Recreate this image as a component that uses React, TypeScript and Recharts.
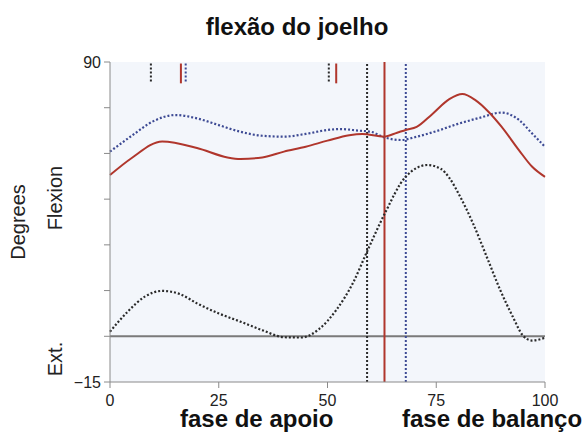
import React from 'react';
import { LineChart, Line, XAxis, YAxis, CartesianGrid, ReferenceLine } from 'recharts';

// gait cycle (%) and knee angle (degrees) for each curve
const redPct = [0, 5, 12, 20, 27, 30, 35, 40, 45, 50, 55, 58, 63, 66, 68, 70.5, 74, 78, 81, 84, 87, 90, 94, 97, 100];
const redDeg = [52.9, 58.5, 63.9, 61.8, 58.7, 58.2, 58.7, 60.6, 62.2, 64.2, 66, 66.4, 65.5, 66.8, 67.7, 68.7, 72.8, 77.8, 79.5, 77.5, 73.7, 68.8, 61.1, 55.7, 52.3];

const bluePct = [0, 5, 10, 15, 20, 25, 30, 35, 40, 45, 50, 53, 57, 60, 63, 67, 70, 75, 80, 85, 90, 94, 97, 100];
const blueDeg = [60.6, 65.8, 70.6, 72.6, 71.5, 69.3, 67.1, 65.8, 65.5, 66.4, 67.7, 68, 67.5, 67.1, 65.3, 64.4, 65.3, 67.3, 69.7, 71.7, 73.4, 71, 66.6, 62.2];

const blackPct = [0, 4, 8, 12, 16, 20, 25, 30, 35, 40, 44, 48, 52, 56, 59, 63, 68, 73, 76, 78, 80.5, 83.4, 86.6, 89.7, 92.6, 94.9, 97, 100];
const blackDeg = [1.5, 8, 13, 14.9, 13.9, 10.8, 7.5, 4.8, 2, -0.3, -0.4, 2.3, 8.6, 17.9, 27.5, 39.8, 52.4, 56.2, 55, 52, 45.8, 37.2, 26.1, 15.2, 6.4, 0.3, -1.4, -0.5];

// event markers (% of cycle)
const shortBlack = [9.4, 50.3];
const shortRed = [16.3, 52];
const shortBlue = [17.4];
const toeOffBlack = 59.1;
const toeOffRed = 63.1;
const toeOffBlue = 68;

const xTicks = [0, 25, 50, 75, 100];
const yTicks = [-15, 0, 15, 30, 45, 60, 75, 90];

const RED = '#b0362c';
const BLUE = '#3d4a94';
const BLACK = '#2a2a2a';
const AXIS = '#8a8a8a';

const toData = (xs: number[], ys: number[]) => xs.map((x, i) => ({ x, y: ys[i] }));
const redData = toData(redPct, redDeg);
const blueData = toData(bluePct, blueDeg);
const blackData = toData(blackPct, blackDeg);

const App: React.FC = () => {
  return (
    <div style={{ position: 'absolute', left: 0, top: 0, width: 583, height: 437, background: '#fff', fontFamily: '"Liberation Sans", Arial, sans-serif' }}>
      <LineChart width={583} height={437} margin={{ top: 62, right: 38, bottom: 25, left: 70 }}>
        <CartesianGrid horizontal={false} vertical={false} fill="#f3f6fb" stroke="none" />
        <XAxis
          type="number"
          dataKey="x"
          domain={[0, 100]}
          ticks={xTicks}
          height={30}
          tickMargin={7}
          tick={{ fontSize: 16, fill: '#222' }}
          axisLine={{ stroke: AXIS }}
          tickLine={{ stroke: AXIS }}
          allowDuplicatedCategory={false}
        />
        <YAxis
          type="number"
          domain={[-15, 90]}
          ticks={yTicks}
          width={40}
          tickMargin={3}
          tick={{ fontSize: 16, fill: '#222' }}
          tickFormatter={(v: number) => (v === 90 ? '90' : v === -15 ? '\u221215' : '')}
          axisLine={{ stroke: AXIS }}
          tickLine={{ stroke: AXIS }}
        />
        <ReferenceLine y={0} stroke="#7a7a7a" strokeWidth={2} />
        {shortBlack.map((p) => (
          <ReferenceLine key={'sb' + p} segment={[{ x: p, y: 89.5 }, { x: p, y: 83 }]} stroke={BLACK} strokeWidth={2} strokeDasharray="2 2" />
        ))}
        {shortRed.map((p) => (
          <ReferenceLine key={'sr' + p} segment={[{ x: p, y: 89.5 }, { x: p, y: 83 }]} stroke={RED} strokeWidth={2} />
        ))}
        {shortBlue.map((p) => (
          <ReferenceLine key={'sbl' + p} segment={[{ x: p, y: 89.5 }, { x: p, y: 83 }]} stroke={BLUE} strokeWidth={2} strokeDasharray="2 2" />
        ))}
        <ReferenceLine x={toeOffBlack} stroke={BLACK} strokeWidth={2} strokeDasharray="2 2" />
        <ReferenceLine x={toeOffRed} stroke={RED} strokeWidth={2} />
        <ReferenceLine x={toeOffBlue} stroke={BLUE} strokeWidth={2} strokeDasharray="2 2" />
        <Line data={blackData} dataKey="y" type="monotone" stroke={BLACK} strokeWidth={2.2} strokeDasharray="2 2" dot={false} isAnimationActive={false} />
        <Line data={blueData} dataKey="y" type="monotone" stroke={BLUE} strokeWidth={2.2} strokeDasharray="2 2" dot={false} isAnimationActive={false} />
        <Line data={redData} dataKey="y" type="monotone" stroke={RED} strokeWidth={2} dot={false} isAnimationActive={false} />
      </LineChart>
      <svg width={583} height={437} style={{ position: 'absolute', left: 0, top: 0, pointerEvents: 'none' }}>
        <text x={297} y={35} textAnchor="middle" fontSize={24} fontWeight="bold" fill="#111">flexão do joelho</text>
        <text x={180} y={427} fontSize={24} fontWeight="bold" fill="#111">fase de apoio</text>
        <text x={402} y={427} fontSize={24} fontWeight="bold" fill="#111">fase de balanço</text>
        <text transform="translate(24.5,222) rotate(-90)" textAnchor="middle" fontSize={20} fill="#222">Degrees</text>
        <text transform="translate(61.5,198) rotate(-90)" textAnchor="middle" fontSize={20} fill="#222">Flexion</text>
        <text transform="translate(61.5,359) rotate(-90)" textAnchor="middle" fontSize={20} fill="#222">Ext.</text>
      </svg>
    </div>
  );
};

export default App;
